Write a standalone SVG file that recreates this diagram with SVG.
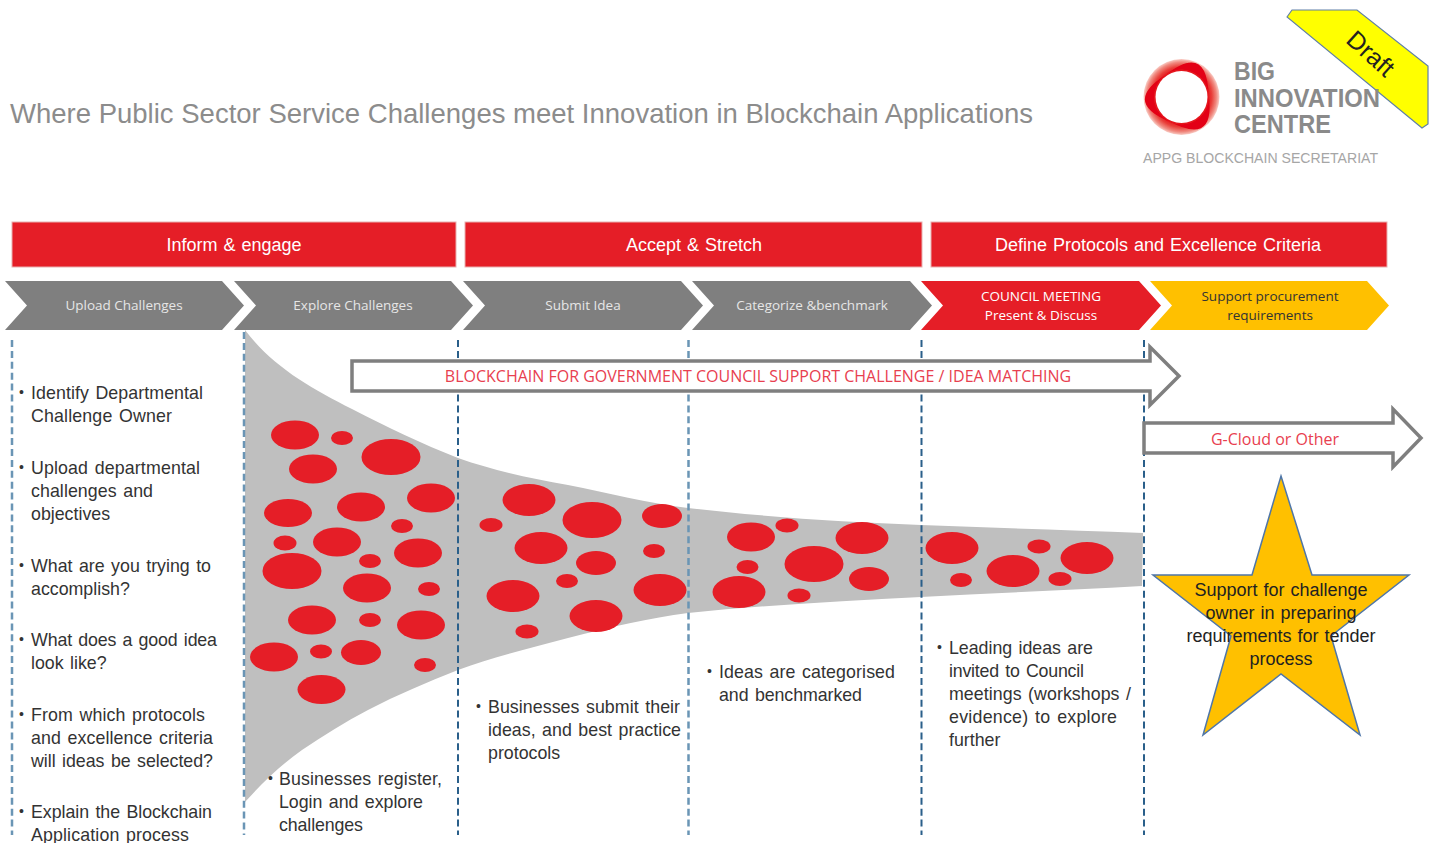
<svg xmlns="http://www.w3.org/2000/svg" width="1433" height="843" viewBox="0 0 1433 843">
<defs>
<radialGradient id="ringg" cx="0.5" cy="0.5" r="0.5"><stop offset="0.66" stop-color="#e30613"/><stop offset="0.8" stop-color="#e9403a"/><stop offset="0.92" stop-color="#f08a80"/><stop offset="1" stop-color="#f9cfc8"/></radialGradient>
<filter id="soft" x="-10%" y="-10%" width="120%" height="120%"><feGaussianBlur stdDeviation="0.7"/></filter>
<path id="blade" d="M-8,-26 A27,27 0 0 1 26,8 Q43,-43 -8,-26 Z" fill="#e30613"/>
</defs>
<style>
text{font-family:"Liberation Sans",Arial,sans-serif}
.band{fill:#e51e27;stroke:#e8b0b0;stroke-width:1}
.bandt{fill:#fff;font-size:18px;text-anchor:middle;word-spacing:1px}
.chev{fill:#7f7f7f}
.chevt{fill:#e6e6e6;font-size:13.5px;text-anchor:middle;font-family:"Open Sans","Liberation Sans",sans-serif}
.sep{fill:none;stroke:#2a5f8a;stroke-width:2;stroke-dasharray:7 3.9}
.sepl{stroke:#6a95b5;stroke-width:2.5}
.b{fill:#e51e27}
.body{fill:#333;font-size:17.8px;word-spacing:1.5px}
.bul{fill:#333;font-size:14px}
.arrow{fill:#fff;stroke:#7f7f7f;stroke-width:3.5}
.arrt{fill:#e8404f;font-size:16px;text-anchor:middle;font-family:"Open Sans","Liberation Sans",sans-serif}
.logot{font-size:25px;font-weight:bold;fill:#8a8a8a}
</style>
<rect width="1433" height="843" fill="#fff"/>
<text id="title" x="10" y="123" font-size="27.5" fill="#8c8c8c" textLength="1023">Where Public Sector Service Challenges meet Innovation in Blockchain Applications</text>

<g id="draft">
<polygon points="1287,17 1292,10 1357,10 1428,66 1428,124 1422,128" fill="#ffff00" stroke="#5f7fa8" stroke-width="1.2"/>
<text x="0" y="0" font-size="25" fill="#222" text-anchor="middle" transform="translate(1365,60) rotate(42)">Draft</text>
</g>
<g id="logo">
<circle cx="1181.500" cy="97" r="38" fill="url(#ringg)" filter="url(#soft)"/>
<g transform="translate(1181.500,97)" filter="url(#soft)"><use href="#blade" transform="rotate(-20)"/><use href="#blade" transform="rotate(100)"/><use href="#blade" transform="rotate(220)"/></g>
<circle cx="1181.500" cy="97" r="26" fill="#fff" filter="url(#soft)"/>
<text class="logot" x="1234" y="80" textLength="41" lengthAdjust="spacingAndGlyphs">BIG</text>
<text class="logot" x="1234" y="107" textLength="146" lengthAdjust="spacingAndGlyphs">INNOVATION</text>
<text class="logot" x="1234" y="133" textLength="97" lengthAdjust="spacingAndGlyphs">CENTRE</text>
<text x="1143" y="163" font-size="14.5" fill="#a6a6a6" textLength="235" lengthAdjust="spacingAndGlyphs">APPG BLOCKCHAIN SECRETARIAT</text>
</g>

<g id="band-inform"><rect class="band" x="12" y="222" width="444" height="45"/><text class="bandt" x="234" y="251">Inform &amp; engage</text></g>
<g id="band-accept"><rect class="band" x="465" y="222" width="457" height="45"/><text class="bandt" x="694" y="251">Accept &amp; Stretch</text></g>
<g id="band-define"><rect class="band" x="931" y="222" width="456" height="45"/><text class="bandt" x="1158" y="251">Define Protocols and Excellence Criteria</text></g>

<g id="chev-upload"><polygon class="chev" points="5,281 222,281 244,305.500 222,330 5,330 27,305.500"/><text class="chevt" x="124" y="310">Upload Challenges</text></g>
<g id="chev-explore"><polygon class="chev" points="234,281 451,281 473,305.500 451,330 234,330 256,305.500"/><text class="chevt" x="353" y="310">Explore Challenges</text></g>
<g id="chev-submit"><polygon class="chev" points="463,281 681,281 703,305.500 681,330 463,330 485,305.500"/><text class="chevt" x="583" y="310">Submit Idea</text></g>
<g id="chev-cat"><polygon class="chev" points="692,281 910,281 932,305.500 910,330 692,330 714,305.500"/><text class="chevt" x="812" y="310">Categorize &amp;benchmark</text></g>
<g id="chev-council"><polygon fill="#e51e27" points="921,281 1139,281 1161,305.500 1139,330 921,330 943,305.500"/><text class="chevt" style="fill:#fff" x="1041" y="301">COUNCIL MEETING</text><text class="chevt" style="fill:#fff" x="1041" y="320">Present &amp; Discuss</text></g>
<g id="chev-support"><polygon fill="#ffc000" points="1150,281 1367,281 1389,305.500 1367,330 1150,330 1172,305.500"/><text class="chevt" style="fill:#333" x="1270" y="301">Support procurement</text><text class="chevt" style="fill:#333" x="1270" y="320">requirements</text></g>

<g id="funnel">
<path d="M245,330 C272,366 310,388 352,409 C387,427 422,444 458,458 C495,471 530,478 568,485 C608,493 648,503 688,508 C765,517 845,522 921,525 C995,528 1070,530 1143,533 L1142,586 C1070,590 995,593 921,597 C845,601 765,605 688,613 C650,618 610,627 568,638 C530,648 493,657 458,670 C427,682 397,695 368,710 C345,722 323,736 302,750 C282,764 262,783 245,802 Z" fill="#bfbfbf"/>
<ellipse class="b" cx="295" cy="435" rx="24" ry="14.500"/><ellipse class="b" cx="342" cy="438" rx="11" ry="7"/><ellipse class="b" cx="391" cy="457" rx="29.500" ry="18"/>
<ellipse class="b" cx="313" cy="469" rx="24" ry="14.500"/><ellipse class="b" cx="431" cy="498" rx="24" ry="14.500"/><ellipse class="b" cx="288" cy="513" rx="24" ry="14"/>
<ellipse class="b" cx="361" cy="507" rx="24" ry="14.500"/><ellipse class="b" cx="402" cy="526" rx="11" ry="7"/><ellipse class="b" cx="285" cy="543" rx="11.500" ry="7.500"/>
<ellipse class="b" cx="337" cy="542" rx="24" ry="14.500"/><ellipse class="b" cx="418" cy="553" rx="24" ry="14.500"/><ellipse class="b" cx="370" cy="561" rx="11" ry="7"/>
<ellipse class="b" cx="292" cy="571" rx="29.500" ry="18"/><ellipse class="b" cx="367" cy="588" rx="24" ry="14.500"/><ellipse class="b" cx="429" cy="589" rx="11" ry="7"/>
<ellipse class="b" cx="312" cy="620" rx="24" ry="14.500"/><ellipse class="b" cx="370" cy="620" rx="11" ry="7"/><ellipse class="b" cx="421" cy="625" rx="24" ry="14.500"/>
<ellipse class="b" cx="274" cy="657" rx="24" ry="14.500"/><ellipse class="b" cx="321" cy="651.500" rx="11" ry="7"/><ellipse class="b" cx="361" cy="652.500" rx="20" ry="12.500"/>
<ellipse class="b" cx="425" cy="665" rx="11" ry="7"/><ellipse class="b" cx="321.500" cy="689.500" rx="24" ry="14.500"/>
<ellipse class="b" cx="529" cy="500" rx="26.500" ry="16"/><ellipse class="b" cx="592" cy="520" rx="29.500" ry="18"/><ellipse class="b" cx="662" cy="516" rx="20" ry="12"/>
<ellipse class="b" cx="491" cy="525" rx="11.500" ry="7"/><ellipse class="b" cx="541" cy="548" rx="26.500" ry="16"/><ellipse class="b" cx="596" cy="563" rx="20" ry="12"/>
<ellipse class="b" cx="654" cy="551" rx="11" ry="7"/><ellipse class="b" cx="567" cy="581" rx="11" ry="7"/><ellipse class="b" cx="513" cy="596" rx="26.500" ry="16"/>
<ellipse class="b" cx="660" cy="590" rx="26.500" ry="16"/><ellipse class="b" cx="596" cy="616" rx="26.500" ry="16"/><ellipse class="b" cx="527" cy="631.500" rx="11.500" ry="7"/>
<ellipse class="b" cx="751" cy="537" rx="24" ry="14.500"/><ellipse class="b" cx="787" cy="525.500" rx="11.500" ry="7"/><ellipse class="b" cx="862" cy="538" rx="26.500" ry="16"/>
<ellipse class="b" cx="814" cy="564" rx="29.500" ry="18"/><ellipse class="b" cx="747.500" cy="567" rx="11" ry="7"/><ellipse class="b" cx="869" cy="579" rx="20" ry="12"/>
<ellipse class="b" cx="739" cy="592" rx="26.500" ry="16"/><ellipse class="b" cx="799" cy="595.500" rx="11.500" ry="7"/>
<ellipse class="b" cx="952" cy="548" rx="26.500" ry="16"/><ellipse class="b" cx="1039" cy="546.500" rx="11.500" ry="7"/><ellipse class="b" cx="1087" cy="558" rx="26.500" ry="16"/>
<ellipse class="b" cx="1013" cy="571" rx="26.500" ry="16"/><ellipse class="b" cx="961" cy="580" rx="11" ry="7"/><ellipse class="b" cx="1060" cy="579" rx="11.500" ry="7"/>
</g>

<g id="connectors">
<line class="sep sepl" x1="12" y1="340" x2="12" y2="835"/>
<line class="sep sepl" x1="244" y1="332" x2="244" y2="835"/>
<line class="sep" x1="458" y1="340" x2="458" y2="835"/>
<line class="sep sepl" x1="688.500" y1="340" x2="688.500" y2="835"/>
<line class="sep" x1="921.500" y1="340" x2="921.500" y2="835"/>
<line class="sep" x1="1144" y1="340" x2="1144" y2="835"/>
</g>

<g id="arrow-blockchain"><polygon class="arrow" points="352,361 1150,361 1150,347 1179,376 1150,405 1150,391 352,391"/><text class="arrt" x="758" y="382">BLOCKCHAIN FOR GOVERNMENT COUNCIL SUPPORT CHALLENGE / IDEA MATCHING</text></g>
<g id="arrow-gcloud"><polygon class="arrow" points="1144,423 1393,423 1393,409 1421,438 1393,467 1393,453 1144,453"/><text class="arrt" x="1275" y="445">G-Cloud or Other</text></g>

<g id="star">
<polygon points="1281,476 1312,575 1409,575 1331,636 1360,735 1281,674 1203,735 1231,636 1153,575 1252,575" fill="#ffc000" stroke="#4f76a8" stroke-width="1.5"/>
<g fill="#222" font-size="18" text-anchor="middle" word-spacing="1"><text x="1281" y="596">Support for challenge</text><text x="1281" y="619">owner in preparing</text><text x="1281" y="642">requirements for tender</text><text x="1281" y="665">process</text></g>
</g>

<g id="text-col1">
<text class="bul" x="19" y="397">•</text><text class="body" x="31" y="399" textLength="172">Identify Departmental</text><text class="body" x="31" y="422" textLength="141">Challenge Owner</text>
<text class="bul" x="19" y="472">•</text><text class="body" x="31" y="474" textLength="169">Upload departmental</text><text class="body" x="31" y="497" textLength="122">challenges and</text><text class="body" x="31" y="520">objectives</text>
<text class="bul" x="19" y="570">•</text><text class="body" x="31" y="572" textLength="180">What are you trying to</text><text class="body" x="31" y="595">accomplish?</text>
<text class="bul" x="19" y="644">•</text><text class="body" x="31" y="646" textLength="186">What does a good idea</text><text class="body" x="31" y="669">look like?</text>
<text class="bul" x="19" y="719">•</text><text class="body" x="31" y="721" textLength="174">From which protocols</text><text class="body" x="31" y="744" textLength="182">and excellence criteria</text><text class="body" x="31" y="767" textLength="182">will ideas be selected?</text>
<text class="bul" x="19" y="816">•</text><text class="body" x="31" y="818" textLength="181">Explain the Blockchain</text><text class="body" x="31" y="841" textLength="158">Application process</text>
</g>
<g id="text-col2"><text class="bul" x="268" y="783">•</text><text class="body" x="279" y="785" textLength="163">Businesses register,</text><text class="body" x="279" y="808" textLength="144">Login and explore</text><text class="body" x="279" y="831" textLength="84">challenges</text></g>
<g id="text-col3"><text class="bul" x="476" y="711">•</text><text class="body" x="488" y="713" textLength="192">Businesses submit their</text><text class="body" x="488" y="736" textLength="193">ideas, and best practice</text><text class="body" x="488" y="759">protocols</text></g>
<g id="text-col4"><text class="bul" x="707" y="676">•</text><text class="body" x="719" y="678" textLength="176">Ideas are categorised</text><text class="body" x="719" y="701" textLength="143">and benchmarked</text></g>
<g id="text-col5"><text class="bul" x="937" y="652">•</text><text class="body" x="949" y="654" textLength="144">Leading ideas are</text><text class="body" x="949" y="677" textLength="135">invited to Council</text><text class="body" x="949" y="700" textLength="182">meetings (workshops /</text><text class="body" x="949" y="723" textLength="168">evidence) to explore</text><text class="body" x="949" y="746">further</text></g>
</svg>
